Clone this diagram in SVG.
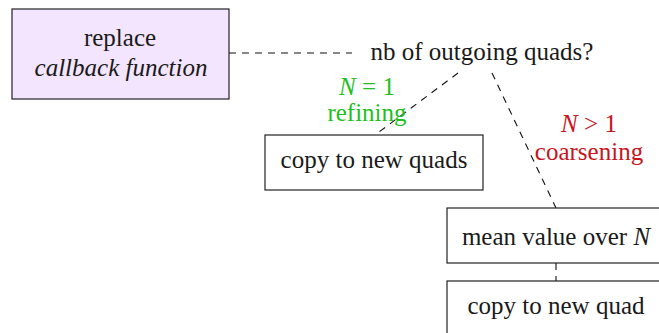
<svg xmlns="http://www.w3.org/2000/svg" width="659" height="333" viewBox="0 0 659 333">
<style>
text{font-family:'Liberation Serif',serif;font-size:25px;fill:#1a1a1a;text-anchor:middle}
.box{fill:#fff;stroke:#222;stroke-width:1.2}
.it{font-style:italic}
.g{fill:#1fbf1f}
.r{fill:#c8141c}
.dash{stroke:#111;stroke-width:1.1;stroke-dasharray:7,6;fill:none}
</style>
<rect width="659" height="333" fill="#fff"/>
<g id="connectors">
<line class="dash" x1="229" y1="53" x2="352" y2="53"/>
<line class="dash" x1="458" y1="73" x2="375" y2="135"/>
<line class="dash" x1="492" y1="73" x2="556" y2="208"/>
<line class="dash" x1="556" y1="263" x2="556" y2="281"/>
</g>
<g id="replace">
<rect x="12" y="9" width="217" height="90" fill="#f3e5fd" stroke="#222" stroke-width="1.2"/>
<text x="120" y="46">replace</text>
<text x="121" y="76" class="it">callback function</text>
</g>
<g id="question">
<text x="482" y="60">nb of outgoing quads?</text>
</g>
<g id="refining-label">
<text x="367" y="95" class="g"><tspan class="it">N</tspan> = 1</text>
<text x="367" y="121" class="g">refining</text>
</g>
<g id="coarsening-label">
<text x="589" y="132" class="r"><tspan class="it">N</tspan> &gt; 1</text>
<text x="589" y="160" class="r">coarsening</text>
</g>
<g id="copy-quads">
<rect class="box" x="265" y="135" width="218" height="55"/>
<text x="374" y="168">copy to new quads</text>
</g>
<g id="mean">
<rect class="box" x="447" y="208" width="220" height="55"/>
<text x="556" y="245">mean value over <tspan class="it">N</tspan></text>
</g>
<g id="copy-quad">
<rect class="box" x="447" y="281" width="220" height="60"/>
<text x="556" y="314">copy to new quad</text>
</g>
</svg>
